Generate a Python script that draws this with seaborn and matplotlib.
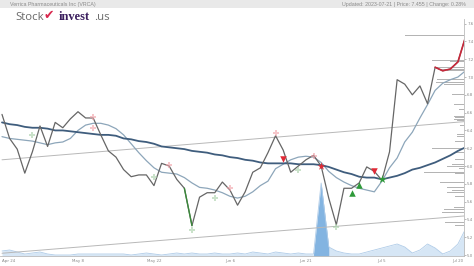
import matplotlib
matplotlib.use("Agg")
import matplotlib.pyplot as plt
import seaborn as sns
import pandas as pd
import numpy as np
from matplotlib.patches import Rectangle

# ---------------- data ----------------
day = list(range(62))  # trading days Apr 24 .. Jul 21 2023
price = [6.58, 6.31, 6.19, 5.92, 6.16, 6.45, 6.22, 6.49, 6.43, 6.53,
         6.61, 6.54, 6.54, 6.35, 6.17, 6.10, 5.96, 5.88, 5.90, 5.90,
         5.78, 6.03, 6.00, 5.85, 5.75, 5.33, 5.65, 5.70, 5.70, 5.82,
         5.73, 5.56, 5.71, 5.93, 5.98, 6.15, 6.34, 6.18, 5.93, 6.00,
         6.07, 6.12, 6.00, 5.64, 5.34, 5.75, 5.75, 5.81, 5.99, 5.94,
         5.84, 6.16, 6.97, 6.92, 6.80, 6.90, 6.70, 7.11, 7.07, 7.09,
         7.17, 7.45]
ma_short = [6.33, 6.31, 6.30, 6.29, 6.28, 6.26, 6.24, 6.26, 6.27, 6.31,
            6.40, 6.46, 6.48, 6.48, 6.46, 6.42, 6.35, 6.25, 6.15, 6.06,
            5.98, 5.93, 5.92, 5.91, 5.87, 5.81, 5.76, 5.75, 5.73, 5.70,
            5.66, 5.64, 5.66, 5.71, 5.78, 5.83, 5.97, 6.02, 6.07, 6.10,
            6.11, 6.10, 6.04, 5.94, 5.87, 5.82, 5.78, 5.75, 5.73, 5.71,
            5.83, 5.98, 6.09, 6.27, 6.38, 6.54, 6.69, 6.85, 6.93, 6.97,
            7.00, 7.07]
ma_long = [6.49, 6.47, 6.46, 6.44, 6.43, 6.43, 6.42, 6.40, 6.40, 6.39,
           6.38, 6.37, 6.36, 6.35, 6.35, 6.34, 6.31, 6.30, 6.28, 6.27,
           6.25, 6.22, 6.21, 6.20, 6.19, 6.17, 6.16, 6.15, 6.13, 6.12,
           6.10, 6.09, 6.07, 6.06, 6.04, 6.03, 6.03, 6.03, 6.03, 6.02,
           6.02, 6.02, 6.01, 5.99, 5.96, 5.93, 5.91, 5.88, 5.87, 5.87,
           5.85, 5.87, 5.89, 5.92, 5.96, 5.98, 6.01, 6.04, 6.08, 6.12,
           6.17, 6.21]
volume = [5, 6, 4, 2, 3, 4, 2, 1, 1, 1,
          2, 2, 2, 2, 2, 2, 2, 1, 2, 3,
          2, 1, 2, 3, 2, 3, 2, 2, 3, 2,
          2, 3, 2, 4, 3, 2, 4, 3, 2, 3,
          2, 2, 73, 9, 5, 3, 2, 2, 4, 6,
          8, 10, 12, 9, 3, 6, 12, 8, 2, 5,
          12, 27]

# trend channel end points (day, price)
chan_x = [0, 61]
chan_upper = [6.07, 6.50]
chan_lower = [5.02, 5.44]

# price-level histogram on the right (price level, length in days)
lvl_price = [7.47, 7.19, 7.17, 7.11, 7.09, 7.07, 6.97, 6.94, 6.92, 6.80,
             6.69, 6.63, 6.56, 6.54, 6.52, 6.51, 6.46, 6.35, 6.33, 6.28,
             6.20, 6.18, 6.15, 6.07, 6.02, 5.99, 5.97, 5.93, 5.92, 5.82,
             5.76, 5.73, 5.70, 5.66, 5.53, 5.51, 5.48, 5.36, 5.33]
lvl_len = [7.8, 4.2, 1.8, 3.8, 3.2, 2.2, 3.6, 3.7, 2.6, 1.6,
           1.3, 0.7, 1.3, 1.2, 1.3, 0.9, 0.5, 0.9, 0.9, 1.2,
           4.2, 3.9, 1.3, 1.2, 1.6, 2.2, 0.7, 5.3, 1.2, 3.2,
           2.2, 1.6, 2.2, 1.2, 1.3, 2.6, 2.9, 2.5, 1.2]

# signals
sell_x, sell_y = [37, 49], [6.08, 5.94]
sell_star_x, sell_star_y = [42], [6.00]
buy_x, buy_y = [46, 47], [5.70, 5.79]
buy_star_x, buy_star_y = [50], [5.85]
fsell_x = [12, 12, 22, 30, 36, 41]
fsell_y = [6.55, 6.43, 6.01, 5.75, 6.37, 6.11]
fbuy_x = [4, 20, 28, 25, 39, 44]
fbuy_y = [6.35, 5.88, 5.64, 5.28, 5.96, 5.31]

tick_pos = [0, 10, 20, 30, 40, 50, 60]
tick_lab = ["Apr 24", "May 8", "May 22", "Jun 6", "Jun 21", "Jul 5", "Jul 20"]
ytick_vals = [5.0, 5.2, 5.4, 5.6, 5.8, 6.0, 6.2, 6.4, 6.6, 6.8, 7.0, 7.2, 7.4, 7.6]

title_left = "Verrica Pharmaceuticals Inc (VRCA)"
title_right = "Updated: 2023-07-21 | Price: 7.455 | Change: 0.28%"

# ---------------- drawing ----------------
sns.set_style("white")
plt.rcParams["font.family"] = ["DejaVu Sans"]

df = pd.DataFrame({"day": day, "price": price, "ma_s": ma_short,
                   "ma_l": ma_long, "vol": volume})

fig = plt.figure(figsize=(4.74, 2.66), dpi=100)
W, H = 474, 266
ax = fig.add_axes([0, 10 / H, 464 / W, 237 / H])
axv = ax.twinx()
ax.set_zorder(axv.get_zorder() + 1)
ax.patch.set_visible(False)

# volume
axv.fill_between(df["day"], 0, df["vol"], color="#d6e6f5", lw=0)
sns.lineplot(data=df, x="day", y="vol", ax=axv, color="#b0cce8", lw=0.6)
spike = df[(df["day"] >= 41) & (df["day"] <= 43)]
axv.fill_between(spike["day"], 0, spike["vol"], color="#6fa8dc", alpha=0.8, lw=0)
axv.set_ylim(0, 237)
axv.set_yticks([])
axv.set_ylabel("")
for s in axv.spines.values():
    s.set_visible(False)

# channel
sns.lineplot(x=chan_x, y=chan_upper, ax=ax, color="#b8b8b8", lw=0.7)
sns.lineplot(x=chan_x, y=chan_lower, ax=ax, color="#b8b8b8", lw=0.7)

# price level bars
xmax = 60.8
ax.barh(lvl_price, lvl_len, left=[xmax - l for l in lvl_len], height=0.011,
        color="#b4b4b4", lw=0, zorder=2)

# moving averages
sns.lineplot(data=df, x="day", y="ma_s", ax=ax, color="#8da6ba", lw=0.9, zorder=3)
sns.lineplot(data=df, x="day", y="ma_l", ax=ax, color="#3f5d7d", lw=1.3, zorder=3)

# price
sns.lineplot(data=df, x="day", y="price", ax=ax, color="#666666", lw=0.9, zorder=4)
g = df[(df["day"] >= 24) & (df["day"] <= 25)]
sns.lineplot(data=g, x="day", y="price", ax=ax, color="#3a8a3a", lw=1.0, zorder=5)
r = df[df["day"] >= 57]
sns.lineplot(data=r, x="day", y="price", ax=ax, color="#c8283a", lw=1.2, zorder=5)

# signals
sns.scatterplot(x=fsell_x, y=fsell_y, ax=ax, marker="P", s=14, color="#f0a0a8",
                alpha=0.6, linewidth=0, zorder=6)
sns.scatterplot(x=fbuy_x, y=fbuy_y, ax=ax, marker="P", s=14, color="#a8d0a8",
                alpha=0.6, linewidth=0, zorder=6)
sns.scatterplot(x=sell_x, y=sell_y, ax=ax, marker="v", s=22, color="#e02a36",
                linewidth=0, zorder=7)
sns.scatterplot(x=sell_star_x, y=sell_star_y, ax=ax, marker="*", s=34, color="#e02a36",
                linewidth=0, zorder=7)
sns.scatterplot(x=buy_x, y=buy_y, ax=ax, marker="^", s=22, color="#2f9a3a",
                linewidth=0, zorder=7)
sns.scatterplot(x=buy_star_x, y=buy_star_y, ax=ax, marker="*", s=40, color="#2f9a3a",
                linewidth=0, zorder=7)

ax.set_xlim(-0.263, xmax)
ax.set_ylim(4.989, 7.652)
ax.set_xlabel("")
ax.set_ylabel("")
ax.yaxis.tick_right()
ax.set_yticks(ytick_vals)
ax.set_yticklabels([f"{v:.1f}" for v in ytick_vals])
ax.set_xticks(tick_pos)
ax.set_xticklabels(tick_lab)
ax.tick_params(axis="both", labelsize=2.9, colors="#888888", length=1.5,
               width=0.4, pad=0.8)
ax.get_xticklabels()[0].set_horizontalalignment("left")
for side in ["left", "top"]:
    ax.spines[side].set_visible(False)
for side in ["right", "bottom"]:
    ax.spines[side].set_color("#bbbbbb")
    ax.spines[side].set_linewidth(0.6)

# header band
fig.patches.append(Rectangle((0, 1 - 8 / H), 1, 8 / H, transform=fig.transFigure,
                             facecolor="#e9e9e9", edgecolor="none", zorder=0))
fig.text(10 / W, 1 - 4.2 / H, title_left, fontsize=3.8, color="#8a8a8a",
         ha="left", va="center", family="Liberation Sans")
fig.text(466 / W, 1 - 4.2 / H, title_right, fontsize=3.8, color="#8a8a8a",
         ha="right", va="center", family="Liberation Sans")

# logo
fig.text(15 / W, 1 - 19.5 / H, "Stock", fontsize=8.2, color="#6a6a6a",
         ha="left", va="baseline", family="Open Sans")
fig.text(44 / W, 1 - 19.5 / H, "\u2714", fontsize=9, color="#d8284e",
         ha="left", va="baseline", family="DejaVu Sans")
fig.text(58.5 / W, 1 - 19.5 / H, "invest", fontsize=9, color="#3b1f5e",
         ha="left", va="baseline", family="Liberation Serif", weight="bold")
fig.text(94 / W, 1 - 19.5 / H, ".us", fontsize=8.2, color="#6a6a6a",
         ha="left", va="baseline", family="Open Sans")

fig.savefig("out.png", dpi=100)
